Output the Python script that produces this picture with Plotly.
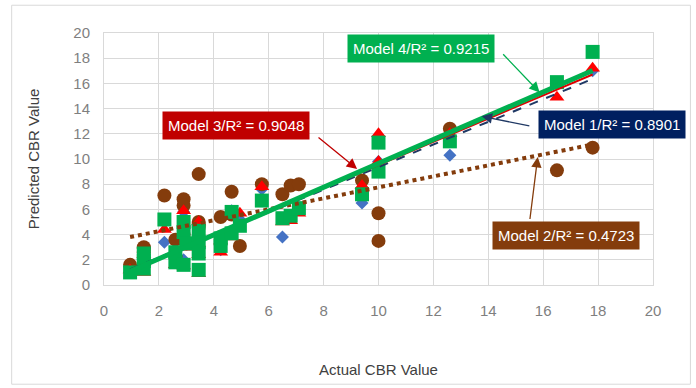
import numpy as np
import plotly.graph_objects as go

# Actual CBR values (x) and predicted values of the four models
actual_cbr = [0.95, 1.45, 1.45, 1.45, 2.2, 2.6, 2.6, 2.9, 2.9, 2.9, 3.0, 3.45, 3.45, 3.45, 3.45,
              4.25, 4.25, 4.65, 4.65, 4.95, 5.75, 6.5, 6.8, 7.1, 9.4, 10.0, 10.0, 12.6, 16.5, 17.8]
model1_pred = [1.1, 1.4, 2.0, 2.6, 3.4, 1.9, 2.7, 5.8, 3.9, 2.0, 3.3, 5.0, 3.4, 2.5, 1.2,
               2.8, 3.6, 5.9, 4.1, 5.2, 7.6, 3.8, 5.5, 6.1, 6.5, 11.8, 9.8, 10.3, 16.0, 17.0]
model2_pred = [1.6, 2.9, 2.6, 3.0, 7.1, 2.3, 3.6, 6.8, 6.3, 4.0, 3.3, 8.8, 5.0, 4.8, 4.6,
               5.4, 3.8, 7.4, 5.6, 3.1, 8.0, 7.2, 7.9, 8.0, 8.3, 5.7, 3.5, 12.4, 9.1, 10.9]
model3_pred = [1.2, 1.0, 1.8, 2.4, 4.4, 1.6, 2.5, 5.9, 4.0, 1.5, 3.0, 5.0, 3.3, 2.4, 0.9,
               2.6, 3.5, 5.7, 3.8, 5.7, 7.8, 5.0, 5.1, 5.7, 7.9, 12.0, 9.8, 12.0, 14.9, 17.2]
model4_pred = [1.0, 1.3, 1.9, 2.5, 5.2, 1.8, 2.6, 5.0, 4.2, 1.6, 3.3, 4.3, 3.4, 2.5, 1.2,
               3.1, 3.7, 5.8, 4.1, 4.7, 6.7, 5.3, 5.5, 6.1, 7.2, 11.3, 9.0, 11.4, 16.1, 18.5]

model_labels = ["Model 1/R² = 0.8901", "Model 2/R² = 0.4723",
                "Model 3/R² = 0.9048", "Model 4/R² = 0.9215"]
x_ticks = [0, 2, 4, 6, 8, 10, 12, 14, 16, 18, 20]
y_ticks = [0, 2, 4, 6, 8, 10, 12, 14, 16, 18, 20]

x = np.array(actual_cbr)
series = [
    dict(y=model1_pred, sym="diamond", size=10, mcol="#4472C4", lcol="#1F3864", lw=2, dash="dash"),
    dict(y=model2_pred, sym="circle", size=14, mcol="#843C0C", lcol="#843C0C", lw=4, dash="dot"),
    dict(y=model3_pred, sym="triangle-up", size=13, mcol="#FF0000", lcol="#E00000", lw=2, dash="solid"),
    dict(y=model4_pred, sym="square", size=14, mcol="#00B050", lcol="#00B050", lw=5, dash="solid"),
]

fig = go.Figure()
for s in series:
    fig.add_trace(go.Scatter(x=actual_cbr, y=s["y"], mode="markers",
                             marker=dict(symbol=s["sym"], size=s["size"], color=s["mcol"], line=dict(width=0)),
                             showlegend=False, cliponaxis=False))
for s in series:
    k, b = np.polyfit(x, np.array(s["y"]), 1)
    xs = np.array([x.min(), x.max()])
    fig.add_trace(go.Scatter(x=xs, y=k * xs + b, mode="lines",
                             line=dict(color=s["lcol"], width=s["lw"], dash=s["dash"]),
                             showlegend=False))

font_main = "Liberation Sans Narrow, Arial Narrow, Liberation Sans, Arial"

boxes = [
    (model_labels[3], 11.55, 18.74, "#00B050"),
    (model_labels[2], 4.82, 12.68, "#C00000"),
    (model_labels[0], 18.49, 12.76, "#002060"),
    (model_labels[1], 16.82, 3.94, "#843C0C"),
]
for txt, bx, by, col in boxes:
    fig.add_annotation(x=bx, y=by, text=txt, showarrow=False, bgcolor=col,
                       font=dict(color="white", size=15, family="Liberation Sans, Arial"),
                       borderpad=5, xanchor="center", yanchor="middle")

arrows = [
    (14.49, 18.43, 15.87, 15.28, "#00B050"),
    (7.76, 11.81, 9.22, 9.21, "#C00000"),
    (15.55, 12.60, 13.76, 13.39, "#1F3864"),
    (15.51, 5.12, 15.80, 10.16, "#843C0C"),
]
for tx, ty, hx, hy, col in arrows:
    fig.add_annotation(x=hx, y=hy, ax=tx, ay=ty, axref="x", ayref="y", xref="x", yref="y",
                       text="", showarrow=True, arrowhead=2, arrowsize=1.6, arrowwidth=1.3,
                       arrowcolor=col)

# outer chart border
L, R, T, B = 103.5, 653.5, 33, 287
def px2paper_x(p): return (p - L) / (R - L)
def px2paper_y(p): return (B - p) / (B - T)
fig.add_shape(type="rect", xref="paper", yref="paper",
              x0=px2paper_x(11), x1=px2paper_x(691), y0=px2paper_y(387), y1=px2paper_y(5),
              line=dict(color="#D9D9D9", width=1), fillcolor="rgba(0,0,0,0)", layer="below")

fig.update_layout(
    width=696, height=388,
    margin=dict(l=L, r=696 - R, t=T, b=388 - B),
    paper_bgcolor="white", plot_bgcolor="white",
    xaxis=dict(range=[0, 20], tickvals=x_ticks, showgrid=True, gridcolor="#D9D9D9", gridwidth=1,
               showline=True, linecolor="#D9D9D9", mirror=True, zeroline=False,
               tickfont=dict(family=font_main, size=15, color="#7F7F7F"),
               ticklabelstandoff=12,
               title=dict(text="Actual CBR Value", font=dict(family=font_main, size=15, color="#404040"),
                          standoff=46)),
    yaxis=dict(range=[0, 20], tickvals=y_ticks, showgrid=True, gridcolor="#D9D9D9", gridwidth=1,
               showline=True, linecolor="#D9D9D9", mirror=True, zeroline=False,
               tickfont=dict(family=font_main, size=15, color="#7F7F7F"),
               ticklabelstandoff=10,
               title=dict(text="Predicted CBR Value", font=dict(family=font_main, size=15, color="#404040"),
                          standoff=30)),
)

fig.write_html("out.html")
